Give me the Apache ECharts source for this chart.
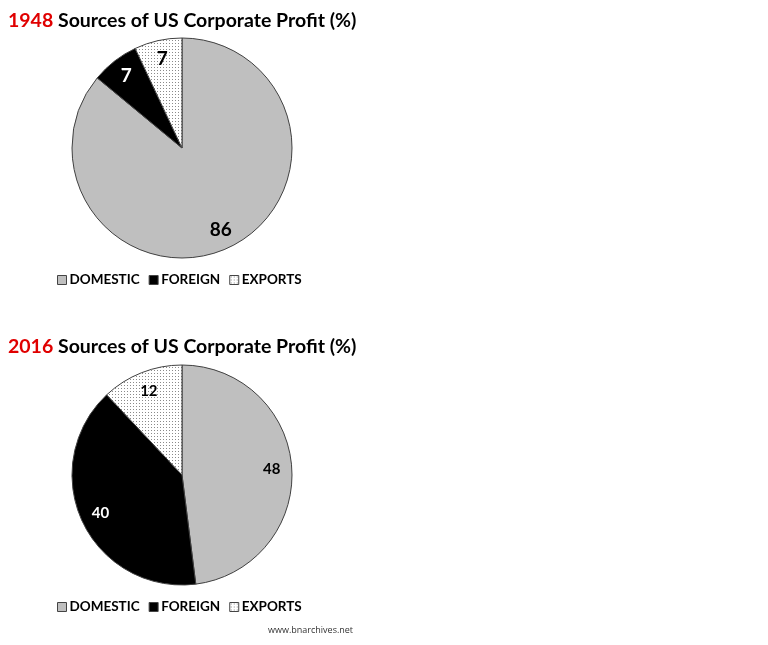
<!DOCTYPE html>
<html>
<head>
<meta charset="utf-8">
<style type="text/css">
    html, body { margin: 0; padding: 0; background: #fff; }
    #main { width: 768px; height: 645px; }
</style>
</head>
<body>
<div id="main"></div>
<script src="https://cdn.jsdelivr.net/npm/echarts@6/dist/echarts.min.js"></script>
<script>
    var categories = ['DOMESTIC', 'FOREIGN', 'EXPORTS'];
    var values1948 = [86, 7, 7];
    var values2016 = [48, 40, 12];
    var years = ['1948', '2016'];

    // dotted fill for exports
    var dots = document.createElement('canvas');
    dots.width = 3;
    dots.height = 3;
    var ctx = dots.getContext('2d');
    ctx.fillStyle = '#fff';
    ctx.fillRect(0, 0, 3, 3);
    ctx.fillStyle = '#8a8a8a';
    ctx.fillRect(1, 1, 1, 1);

    var fills = ['#bfbfbf', '#000000', { image: dots, repeat: 'repeat' }];
    var labelColors = ['#000', '#fff', '#000'];

    function pieData(values) {
        return values.map(function (v, i) {
            return { name: categories[i], value: v, itemStyle: { color: fills[i] } };
        });
    }

    function overlayData(values, fontSize) {
        return values.map(function (v, i) {
            return {
                name: categories[i],
                value: v,
                label: { color: labelColors[i], fontSize: fontSize }
            };
        });
    }

    var font = 'Lato, "Open Sans", sans-serif';
    var myChart = echarts.init(document.getElementById('main'));
    var centers = [[182, 148], [182, 475]];

    var option = {
        animation: false,
        title: years.map(function (y, i) {
            return {
                text: '{r|' + y + '} Sources of US Corporate Profit (%)',
                left: 3,
                top: i === 0 ? 6 : 332,
                textStyle: {
                    fontFamily: font, fontSize: 19.5, fontWeight: 'bold', color: '#000',
                    rich: { r: { fontFamily: font, fontSize: 19.5, fontWeight: 'bold', color: '#e00000' } }
                }
            };
        }).concat([{
            text: 'www.bnarchives.net',
            left: 263,
            top: 621,
            textStyle: { fontFamily: 'Open Sans, sans-serif', fontSize: 9, fontWeight: 'normal', color: '#333' }
        }]),
        legend: [0, 1].map(function (i) {
            return {
                data: categories,
                left: 52,
                top: i === 0 ? 268 : 595,
                icon: 'rect',
                itemWidth: 9,
                itemHeight: 9,
                itemGap: 9,
                selectedMode: false,
                itemStyle: { borderColor: '#444', borderWidth: 1 },
                textStyle: { fontFamily: font, fontSize: 13.5, fontWeight: 'bold', color: '#000', padding: [0, 0, 0, -2] }
            };
        }),
        series: [
            {
                name: '1948',
                type: 'pie',
                center: centers[0],
                radius: 110,
                startAngle: 90,
                silent: true,
                label: { show: false },
                labelLine: { show: false },
                itemStyle: { borderColor: '#404040', borderWidth: 1 },
                data: pieData(values1948)
            },
            {
                name: '1948 labels',
                type: 'pie',
                center: centers[0],
                radius: [66, 110],
                startAngle: 90,
                silent: true,
                itemStyle: { color: 'rgba(0,0,0,0)' },
                label: { show: true, position: 'inside', formatter: '{c}', fontFamily: font, fontWeight: 'bold' },
                labelLine: { show: false },
                data: overlayData(values1948, 19)
            },
            {
                name: '2016',
                type: 'pie',
                center: centers[1],
                radius: 110,
                startAngle: 90,
                silent: true,
                label: { show: false },
                labelLine: { show: false },
                itemStyle: { borderColor: '#404040', borderWidth: 1 },
                data: pieData(values2016)
            },
            {
                name: '2016 labels',
                type: 'pie',
                center: centers[1],
                radius: [64, 110],
                startAngle: 90,
                silent: true,
                itemStyle: { color: 'rgba(0,0,0,0)' },
                label: { show: true, position: 'inside', formatter: '{c}', fontFamily: font, fontWeight: 'bold' },
                labelLine: { show: false },
                data: overlayData(values2016, 15)
            }
        ]
    };
    myChart.setOption(option);
</script>
</body>
</html>
